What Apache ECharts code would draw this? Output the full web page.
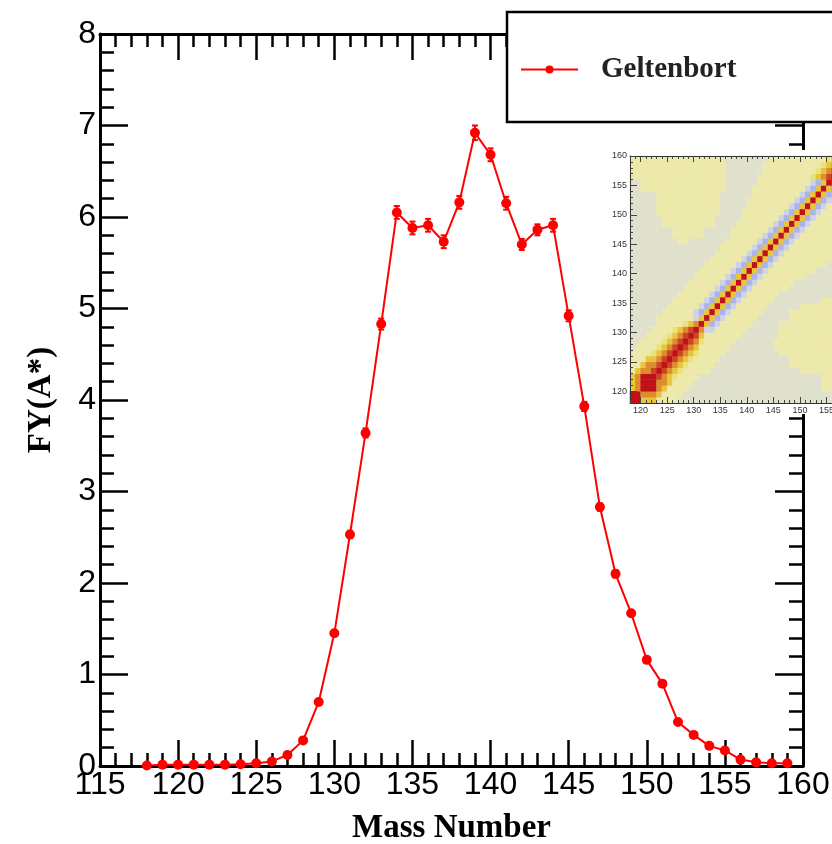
<!DOCTYPE html>
<html><head><meta charset="utf-8">
<script src="https://cdn.jsdelivr.net/npm/echarts@6/dist/echarts.min.js"></script>
<style>html,body{margin:0;padding:0;background:#fff}#c{width:832px;height:844px}</style>
</head><body><div id="c"></div>
<script>
// ---------- main chart data ----------
const massNumbers = [118,119,120,121,122,123,124,125,126,127,128,129,130,131,132,133,134,135,136,137,138,139,140,141,142,143,144,145,146,147,148,149,150,151,152,153,154,155,156,157,158,159];
const fissionYield = [0.005,0.015,0.015,0.015,0.015,0.015,0.02,0.03,0.05,0.12,0.28,0.70,1.45,2.53,3.64,4.83,6.05,5.88,5.91,5.73,6.16,6.92,6.68,6.15,5.70,5.86,5.91,4.92,3.93,2.83,2.10,1.67,1.16,0.90,0.48,0.34,0.22,0.17,0.07,0.04,0.03,0.03];
const yieldError = [0.005,0.005,0.005,0.005,0.005,0.005,0.005,0.005,0.01,0.01,0.01,0.02,0.03,0.04,0.05,0.06,0.07,0.07,0.07,0.07,0.07,0.08,0.07,0.07,0.06,0.06,0.07,0.06,0.05,0.04,0.04,0.03,0.03,0.02,0.02,0.01,0.01,0.01,0.01,0.005,0.005,0.005];
const xTickValues = [115,120,125,130,135,140,145,150,155,160];
const yTickValues = [0,1,2,3,4,5,6,7,8];
const seriesName = 'Geltenbort';
const xTitle = 'Mass Number';
const yTitle = 'FY(A*)';

// ---------- inset correlation matrix (lower triangle, run-length coded per row 118..159) ----------
const corrBins = ['118','119','120','121','122','123','124','125','126','127','128','129','130','131','132','133','134','135','136','137','138','139','140','141','142','143','144','145','146','147','148','149','150','151','152','153','154','155','156','157','158','159'];
const corrEdges = ['118','119','120','121','122','123','124','125','126','127','128','129','130','131','132','133','134','135','136','137','138','139','140','141','142','143','144','145','146','147','148','149','150','151','152','153','154','155','156','157','158','159','160'];
const corrRows = [
 "R",
 "R2",
 "y o R",
 "y o R2",
 "y o R3",
 "Y y o2 r R",
 "Y2 y o2 r R",
 "Y3 y2 o r R",
 "Y4 l y o r R",
 "g Y4 l y o r R",
 "g2 Y4 l y o r R",
 "g3 Y4 l y o r R",
 "g4 Y4 l y o r R",
 "g5 Y5 l y o R",
 "g5 Y7 b y R",
 "g6 Y6 b B y R",
 "g7 Y6 b B y R",
 "g8 Y6 b B y R",
 "g9 Y6 b B y R",
 "g10 Y6 b B y R",
 "g11 Y6 b B y R",
 "g12 Y6 b B y R",
 "g13 Y6 b B y R",
 "g14 Y6 b B y R",
 "g15 Y6 b B y R",
 "g16 Y6 b B y R",
 "g17 Y6 b B y R",
 "g9 Y2 g7 Y6 b B y R",
 "g8 Y6 g5 Y6 b B y R",
 "g8 Y6 g5 Y7 b B y R",
 "g6 Y10 g4 Y7 b B y R",
 "g6 Y10 g5 Y7 b B y R",
 "g5 Y12 g4 Y8 b B y R",
 "g5 Y12 g5 Y8 b B y R",
 "g5 Y12 g5 Y9 b B y R",
 "g5 Y12 g6 Y9 b B y R",
 "g2 Y16 g5 Y10 b B y R",
 "g2 Y16 g6 Y10 b B y R",
 "Y18 g6 Y10 l y o r R",
 "Y18 g7 Y10 l y o r R",
 "Y18 g7 Y11 l y o r R",
 "Y18 g8 Y11 l y o r R"
];
const corrLevels = ['R','r','o','y','l','Y','g','b','B'];
const corrColors = ['#c0101a','#cc4424','#dd8c2e','#e8c53c','#ece27c','#ede9aa','#e0e1cc','#cfd3e6','#aab3ea'];

function expandRow(s){let o='';s.split(' ').forEach(t=>{const c=t[0];const n=t.length>1?parseInt(t.slice(1),10):1;o+=c.repeat(n);});return o;}
const tri = corrRows.map(expandRow);
const N = corrBins.length;
const heatData = [];
for (let yi=0; yi<N; yi++) for (let xi=0; xi<N; xi++) {
  const ch = xi<=yi ? tri[yi][xi] : tri[xi][yi];
  heatData.push([xi, yi, corrLevels.indexOf(ch)]);
}

const chart = echarts.init(document.getElementById('c'), null, {renderer:'canvas'});
const black = '#000';
const every5 = (i, v) => Number(v) % 5 === 0;
const titleFont = {fontFamily:'Liberation Serif', fontWeight:'bold', fontSize:33, color:'#000'};
const insetLbl = {fontSize:9, fontFamily:'Liberation Sans', color:'#333'};
const insetLine = {show:true, lineStyle:{color:'#333', width:1}};

const mainTick = (len) => ({show:true, inside:true, length:len, lineStyle:{color:black, width:2.5}});
const mainMinor = (len) => ({show:true, splitNumber:5, length:len, lineStyle:{color:black, width:2.5}});
const insetGrid = {left:630, top:156, width:223, height:247, outerBoundsMode:'none', containLabel:false};

const option = {
  animation:false,
  backgroundColor:'#fff',
  grid:[
    {left:100, top:34, width:703, height:732, outerBoundsMode:'none', containLabel:false},
    Object.assign({}, insetGrid),
    Object.assign({}, insetGrid),
    Object.assign({}, insetGrid)
  ],
  legend:{
    data:[seriesName], left:507, top:12, orient:'horizontal',
    itemWidth:57, itemHeight:10,
    padding:[43, 260, 38, 13],
    borderColor:'#000', borderWidth:2.5, backgroundColor:'#fff', borderRadius:0,
    textStyle:{fontFamily:'Liberation Serif', fontWeight:'bold', fontSize:29, color:'#222', padding:[0,0,0,18]}
  },
  visualMap:{type:'piecewise', show:false, dimension:2, seriesIndex:2,
    pieces: corrColors.map((c,i)=>({value:i, color:c}))},
  graphic:{elements:[{type:'rect', silent:true, z:10, shape:{x:598, y:150, width:260, height:264}, style:{fill:'#fff'}}]},
  xAxis:[
    {gridIndex:0, type:'value', position:'bottom', min:xTickValues[0], max:xTickValues[xTickValues.length-1], interval:xTickValues[1]-xTickValues[0],
     axisLine:{show:true, onZero:false, lineStyle:{color:black, width:3}}, axisTick:mainTick(26), minorTick:mainMinor(13), splitLine:{show:false},
     axisLabel:{fontSize:32, fontFamily:'Liberation Sans', color:'#000', margin:3, showMinLabel:true, showMaxLabel:true},
     name:xTitle, nameLocation:'middle', nameGap:46, nameTextStyle:titleFont},
    {gridIndex:0, type:'value', position:'top', min:xTickValues[0], max:xTickValues[xTickValues.length-1], interval:xTickValues[1]-xTickValues[0],
     axisLine:{show:true, onZero:false, lineStyle:{color:black, width:3}}, axisTick:mainTick(26), minorTick:mainMinor(13), splitLine:{show:false}, axisLabel:{show:false}},
    {gridIndex:1, type:'category', data:corrBins, position:'bottom', z:20,
     axisLine:{show:false}, axisTick:{show:true, inside:true, interval:0, length:3, lineStyle:{color:'#444', width:1}}, axisLabel:{show:false}, splitLine:{show:false}},
    {gridIndex:2, type:'category', data:corrEdges, boundaryGap:false, position:'bottom', z:20,
     axisLine:insetLine, axisTick:{show:true, inside:true, interval:every5, length:6, lineStyle:{color:'#444', width:1}},
     axisLabel:Object.assign({interval:every5, margin:3}, insetLbl), splitLine:{show:false}},
    {gridIndex:2, type:'category', data:corrEdges, boundaryGap:false, position:'top', z:20,
     axisLine:insetLine, axisTick:{show:true, inside:true, interval:0, length:3, lineStyle:{color:'#444', width:1}}, axisLabel:{show:false}, splitLine:{show:false}},
    {gridIndex:3, type:'category', data:corrEdges, boundaryGap:false, position:'top', z:20,
     axisLine:{show:false}, axisTick:{show:true, inside:true, interval:every5, length:6, lineStyle:{color:'#444', width:1}}, axisLabel:{show:false}, splitLine:{show:false}}
  ],
  yAxis:[
    {gridIndex:0, type:'value', position:'left', min:yTickValues[0], max:yTickValues[yTickValues.length-1], interval:yTickValues[1]-yTickValues[0],
     axisLine:{show:true, onZero:false, lineStyle:{color:black, width:3}}, axisTick:mainTick(28), minorTick:mainMinor(14), splitLine:{show:false},
     axisLabel:{fontSize:32, fontFamily:'Liberation Sans', color:'#000', margin:4, showMinLabel:true, showMaxLabel:true},
     name:yTitle, nameLocation:'middle', nameGap:42, nameTextStyle:titleFont},
    {gridIndex:0, type:'value', position:'right', min:yTickValues[0], max:yTickValues[yTickValues.length-1], interval:yTickValues[1]-yTickValues[0],
     axisLine:{show:true, onZero:false, lineStyle:{color:black, width:3}}, axisTick:mainTick(28), minorTick:mainMinor(14), splitLine:{show:false}, axisLabel:{show:false}},
    {gridIndex:1, type:'category', data:corrBins, position:'left', z:20,
     axisLine:{show:false}, axisTick:{show:true, inside:true, interval:0, length:3, lineStyle:{color:'#444', width:1}}, axisLabel:{show:false}, splitLine:{show:false}},
    {gridIndex:2, type:'category', data:corrEdges, boundaryGap:false, position:'left', z:20,
     axisLine:insetLine, axisTick:{show:true, inside:true, interval:every5, length:7, lineStyle:{color:'#444', width:1}},
     axisLabel:Object.assign({interval:every5, margin:3}, insetLbl), splitLine:{show:false}},
    {gridIndex:3, type:'category', data:corrEdges, boundaryGap:false, position:'left', show:false}
  ],
  series:[
    {name:seriesName, type:'line', xAxisIndex:0, yAxisIndex:0, z:3,
     data: massNumbers.map((m,i)=>[m, fissionYield[i]]),
     symbol:'circle', symbolSize:10, itemStyle:{color:'#ff0000'}, lineStyle:{color:'#ff0000', width:2}},
    {name:seriesName+' err', type:'custom', xAxisIndex:0, yAxisIndex:0, z:4,
     data: massNumbers.map((m,i)=>[m, fissionYield[i], yieldError[i]]),
     renderItem:(params, api)=>{
       const x=api.value(0), y=api.value(1), e=api.value(2);
       const t=api.coord([x, y+e]), b=api.coord([x, y-e]);
       const st={stroke:'#ff0000', lineWidth:2};
       return {type:'group', children:[
         {type:'line', shape:{x1:t[0], y1:t[1], x2:b[0], y2:b[1]}, style:st},
         {type:'line', shape:{x1:t[0]-3, y1:t[1], x2:t[0]+3, y2:t[1]}, style:st},
         {type:'line', shape:{x1:b[0]-3, y1:b[1], x2:b[0]+3, y2:b[1]}, style:st}
       ]};
     }},
    {name:'corr', type:'heatmap', xAxisIndex:2, yAxisIndex:2, z:15, data:heatData,
     itemStyle:{borderWidth:0}, emphasis:{disabled:true}, progressive:0}
  ]
};
chart.setOption(option);
</script></body></html>
